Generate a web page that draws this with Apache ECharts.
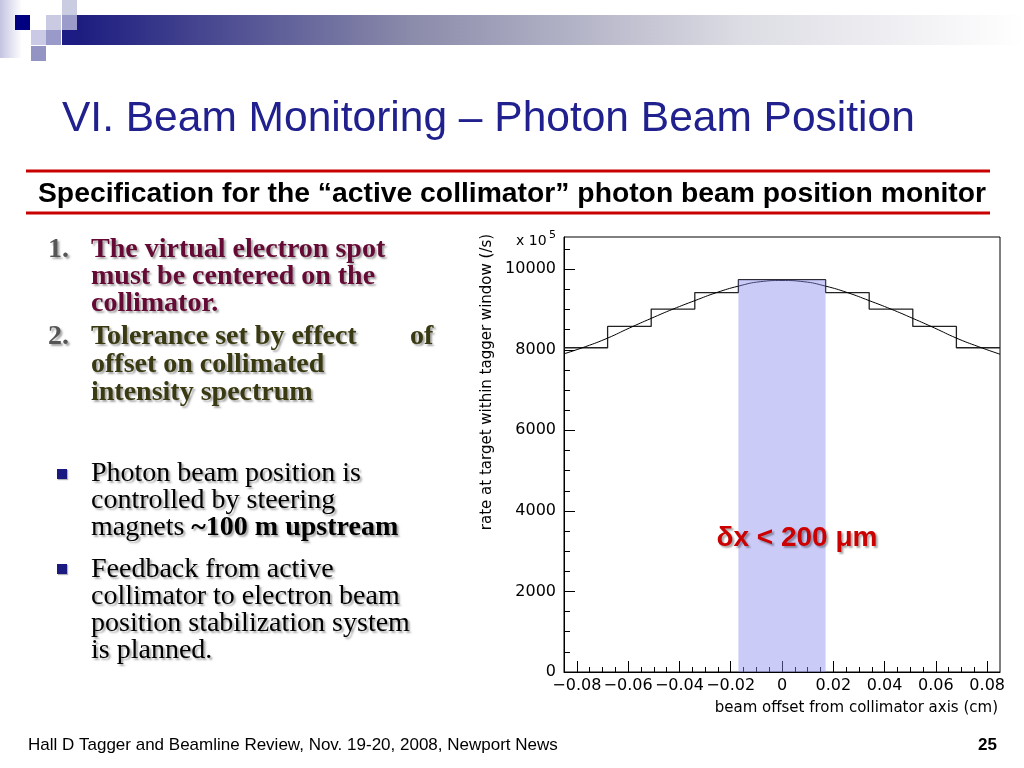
<!DOCTYPE html>
<html>
<head>
<meta charset="utf-8">
<script src="https://cdn.jsdelivr.net/npm/echarts@6/dist/echarts.min.js"></script>
<style>
html,body{margin:0;padding:0;background:#fff;}
#c{width:1024px;height:768px;}
</style>
</head>
<body>
<div id="c"></div>
<script>
// ---- data ----
const binEdges = [-0.085, -0.068, -0.051, -0.034, -0.017, 0, 0.017, 0.034, 0.051, 0.068, 0.085];
const binValues = [8050, 8580, 9010, 9420, 9740, 9740, 9420, 9010, 8580, 8050];
const curveX = [-0.085, -0.0765, -0.068, -0.0595, -0.051, -0.0425, -0.034, -0.0255, -0.017, -0.0085, 0,
                0.0085, 0.017, 0.0255, 0.034, 0.0425, 0.051, 0.0595, 0.068, 0.0765, 0.085];
const curveY = [7900, 8080, 8290, 8540, 8780, 9010, 9220, 9420, 9580, 9690, 9720,
                9690, 9580, 9420, 9220, 9010, 8780, 8540, 8290, 8080, 7890];
const bandX = [-0.017, 0.017];
const bandY = 9740;

const xMajorTicks = [-0.08, -0.06, -0.04, -0.02, 0, 0.02, 0.04, 0.06, 0.08];
const xTickLabels = ['\u22120.08', '\u22120.06', '\u22120.04', '\u22120.02', '0', '0.02', '0.04', '0.06', '0.08'];
const xMinorTicks = [-0.08, -0.075, -0.07, -0.065, -0.06, -0.055, -0.05, -0.045, -0.04, -0.035, -0.03, -0.025,
                     -0.02, -0.015, -0.01, -0.005, 0, 0.005, 0.01, 0.015, 0.02, 0.025, 0.03, 0.035, 0.04,
                     0.045, 0.05, 0.055, 0.06, 0.065, 0.07, 0.075, 0.08];
const yMajorTicks = [0, 2000, 4000, 6000, 8000, 10000];
const yTickLabels = ['0', '2000', '4000', '6000', '8000', '10000'];
const yMinorTicks = [500, 1000, 1500, 2000, 2500, 3000, 3500, 4000, 4500, 5000, 5500, 6000, 6500, 7000,
                     7500, 8000, 8500, 9000, 9500, 10000, 10500];

const titleText = 'VI. Beam Monitoring \u2013 Photon Beam Position';
const subtitleText = 'Specification for the \u201cactive collimator\u201d photon beam position monitor';
const item1Lines = ['The virtual electron spot', 'must be centered on the', 'collimator.'];
const item2Lines = ['Tolerance set by effect', 'offset on collimated', 'intensity spectrum'];
const bullet1Lines = ['Photon beam position is', 'controlled by steering'];
const bullet2Lines = ['Feedback from active', 'collimator to electron beam', 'position stabilization system', 'is planned.'];
const footerText = 'Hall D Tagger and Beamline Review, Nov. 19-20, 2008, Newport News';
const pageNumber = '25';

// ---- build ----
const histData = binValues.map((v, i) => [binEdges[i], v]);
histData.push([binEdges[binEdges.length - 1], binValues[binValues.length - 1]]);
const curveData = curveX.map((x, i) => [x, curveY[i]]);
const bandData = bandX.map(x => [x, bandY]);

const SERIF = '"Liberation Serif", "Times New Roman", serif';
const SANS = '"Liberation Sans", Arial, sans-serif';
const PLOT = '"DejaVu Sans", sans-serif';

function txt(text, x, y, size, opts) {
  opts = opts || {};
  return {
    type: 'text', z: 10,
    style: Object.assign({
      text: text, x: x, y: y,
      fontSize: size, fontFamily: opts.family || SERIF, fontWeight: opts.weight || 'normal',
      fill: opts.fill || '#000',
      align: opts.align || 'left', verticalAlign: 'middle',
      textAlign: opts.align || 'left', textVerticalAlign: 'middle'
    }, opts.shadow ? {textShadowColor: 'rgba(0,0,0,0.35)', textShadowBlur: 2, textShadowOffsetX: 2, textShadowOffsetY: 2} : {})
  };
}

const graphics = [];
// header decoration
graphics.push({type: 'rect', shape: {x: 0, y: 0, width: 22, height: 58},
  style: {fill: new echarts.graphic.LinearGradient(0, 0, 1, 0, [{offset: 0, color: '#c4c4e2'}, {offset: 1, color: '#ffffff'}])}});
graphics.push({type: 'rect', shape: {x: 77, y: 15, width: 947, height: 30},
  style: {fill: new echarts.graphic.LinearGradient(0, 0, 1, 0, [
    {offset: 0, color: '#1c1c80'}, {offset: 0.35, color: '#8a8aaa'}, {offset: 0.7, color: '#dcdce4'}, {offset: 1, color: '#ffffff'}])}});
graphics.push({type: 'rect', shape: {x: 62, y: 30, width: 15, height: 15}, style: {fill: '#1c1c84'}});
graphics.push({type: 'rect', shape: {x: 15, y: 15, width: 15, height: 15}, style: {fill: '#000080'}});
graphics.push({type: 'rect', shape: {x: 62, y: 0, width: 15, height: 15}, style: {fill: '#cacce2'}});
graphics.push({type: 'rect', shape: {x: 46, y: 15, width: 15, height: 15}, style: {fill: '#cacae2'}});
graphics.push({type: 'rect', shape: {x: 62, y: 15, width: 15, height: 15}, style: {fill: '#9c9cca'}});
graphics.push({type: 'rect', shape: {x: 31, y: 30, width: 15, height: 15}, style: {fill: '#cacae6'}});
graphics.push({type: 'rect', shape: {x: 46, y: 30, width: 15, height: 15}, style: {fill: '#9a9aca'}});
graphics.push({type: 'rect', shape: {x: 31, y: 46, width: 15, height: 15}, style: {fill: '#9494c4'}});

// title
graphics.push(txt(titleText, 62, 119, 42.5, {family: SANS, fill: '#20208e'}));
// red lines
graphics.push({type: 'line', shape: {x1: 26, y1: 171, x2: 990, y2: 171}, style: {stroke: '#c80000', lineWidth: 3}});
graphics.push({type: 'line', shape: {x1: 26, y1: 213, x2: 990, y2: 213}, style: {stroke: '#c80000', lineWidth: 3}});
graphics.push(txt(subtitleText, 38, 194, 28.3, {family: SANS, weight: 'bold'}));

// numbered list
graphics.push(txt('1.', 48, 250, 28, {weight: 'bold', fill: '#555555', shadow: true}));
item1Lines.forEach((l, i) => graphics.push(txt(l, 91, 250 + 27 * i, 28, {weight: 'bold', fill: '#640a34', shadow: true})));
graphics.push(txt('2.', 48, 337, 28, {weight: 'bold', fill: '#555555', shadow: true}));
item2Lines.forEach((l, i) => graphics.push(txt(l, 91, 337 + 28 * i, 28, {weight: 'bold', fill: '#3a3a12', shadow: true})));
graphics.push(txt('of', 410, 337, 28, {weight: 'bold', fill: '#3a3a12', shadow: true}));

// bullets
graphics.push({type: 'rect', shape: {x: 57, y: 469, width: 10, height: 10}, style: {fill: '#1a1a80', shadowColor: 'rgba(0,0,0,0.3)', shadowOffsetX: 1, shadowOffsetY: 1, shadowBlur: 1}});
bullet1Lines.forEach((l, i) => graphics.push(txt(l, 91, 474 + 27 * i, 28, {shadow: true})));
graphics.push({
  type: 'text', z: 10,
  style: {
    text: '{r|magnets }{b|~100 m upstream}', x: 91, y: 528,
    verticalAlign: 'middle', textVerticalAlign: 'middle',
    textShadowColor: 'rgba(0,0,0,0.35)', textShadowBlur: 2, textShadowOffsetX: 2, textShadowOffsetY: 2,
    rich: {
      r: {fontSize: 28, fontFamily: SERIF, fill: '#000', color: '#000'},
      b: {fontSize: 28, fontFamily: SERIF, fontWeight: 'bold', fill: '#000', color: '#000'}
    }
  }
});
graphics.push({type: 'rect', shape: {x: 57, y: 564, width: 10, height: 10}, style: {fill: '#1a1a80', shadowColor: 'rgba(0,0,0,0.3)', shadowOffsetX: 1, shadowOffsetY: 1, shadowBlur: 1}});
bullet2Lines.forEach((l, i) => graphics.push(txt(l, 91, 570 + 27 * i, 28, {shadow: true})));

// plot annotations
graphics.push(txt('x 10', 516, 241, 14, {family: PLOT}));
graphics.push(txt('5', 549, 235, 11, {family: PLOT}));
graphics.push({
  type: 'text', z: 10, x: 487, y: 382, rotation: Math.PI / 2,
  style: {text: 'rate at target within tagger window (/s)', x: 0, y: 0, fontSize: 15, fontFamily: PLOT, fill: '#000',
    align: 'center', verticalAlign: 'middle', textAlign: 'center', textVerticalAlign: 'middle'}
});
graphics.push(txt('beam offset from collimator axis (cm)', 998, 708, 15, {family: PLOT, align: 'right'}));
graphics.push(txt('\u03b4x < 200 \u03bcm', 797, 538, 28, {family: SANS, weight: 'bold', fill: '#cc0000', align: 'center', shadow: true}));

// footer
graphics.push(txt(footerText, 28, 745, 17, {family: '"Liberation Sans Narrow", "Liberation Sans", Arial, sans-serif'}));
graphics.push(txt(pageNumber, 997, 745, 17, {family: SANS, weight: 'bold', align: 'right'}));

const chart = echarts.init(document.getElementById('c'), null, {renderer: 'canvas'});
const majorLabelFmt = (arr, labels) => v => {
  const i = arr.findIndex(a => Math.abs(a - v) < 1e-9);
  return i >= 0 ? labels[i] : '';
};
chart.setOption({
  animation: false,
  backgroundColor: '#fff',
  grid: {left: 564, right: 24, top: 237, bottom: 96, show: true, borderColor: '#000', borderWidth: 1, backgroundColor: 'transparent'},
  xAxis: [
    {type: 'value', min: -0.085, max: 0.085, position: 'bottom',
     axisLine: {show: true, onZero: false, lineStyle: {color: '#000', width: 1}},
     axisTick: {show: true, inside: true, length: 11, lineStyle: {color: '#000'}, customValues: xMajorTicks},
     axisLabel: {show: true, customValues: xMajorTicks, formatter: majorLabelFmt(xMajorTicks, xTickLabels),
                 color: '#000', fontFamily: PLOT, fontSize: 16, margin: 6},
     splitLine: {show: false}},
    {type: 'value', min: -0.085, max: 0.085, position: 'bottom', offset: 0,
     axisLine: {show: false, onZero: false},
     axisTick: {show: true, inside: true, length: 5, lineStyle: {color: '#000'}, customValues: xMinorTicks},
     axisLabel: {show: false},
     splitLine: {show: false}}
  ],
  yAxis: [
    {type: 'value', min: 0, max: 10800, position: 'left',
     axisLine: {show: true, onZero: false, lineStyle: {color: '#000', width: 1}},
     axisTick: {show: true, inside: true, length: 11, lineStyle: {color: '#000'}, customValues: yMajorTicks},
     axisLabel: {show: true, customValues: yMajorTicks, formatter: majorLabelFmt(yMajorTicks, yTickLabels),
                 color: '#000', fontFamily: PLOT, fontSize: 16, margin: 8},
     splitLine: {show: false}},
    {type: 'value', min: 0, max: 10800, position: 'left', offset: 0,
     axisLine: {show: false, onZero: false},
     axisTick: {show: true, inside: true, length: 6, lineStyle: {color: '#000'}, customValues: yMinorTicks},
     axisLabel: {show: false},
     splitLine: {show: false}}
  ],
  series: [
    {name: 'histogram', type: 'line', step: 'end', data: histData, showSymbol: false, symbol: 'none',
     lineStyle: {color: '#222', width: 1.3}, z: 3, silent: true},
    {name: 'fit', type: 'line', smooth: true, data: curveData, showSymbol: false, symbol: 'none',
     lineStyle: {color: '#000', width: 1}, z: 4, silent: true},
    {name: 'tolerance', type: 'line', data: bandData, showSymbol: false, symbol: 'none',
     lineStyle: {width: 0, opacity: 0}, areaStyle: {color: 'rgba(140,140,240,0.45)', opacity: 1, origin: 'start'}, z: 5, silent: true}
  ],
  graphic: graphics
});
</script>
</body>
</html>
